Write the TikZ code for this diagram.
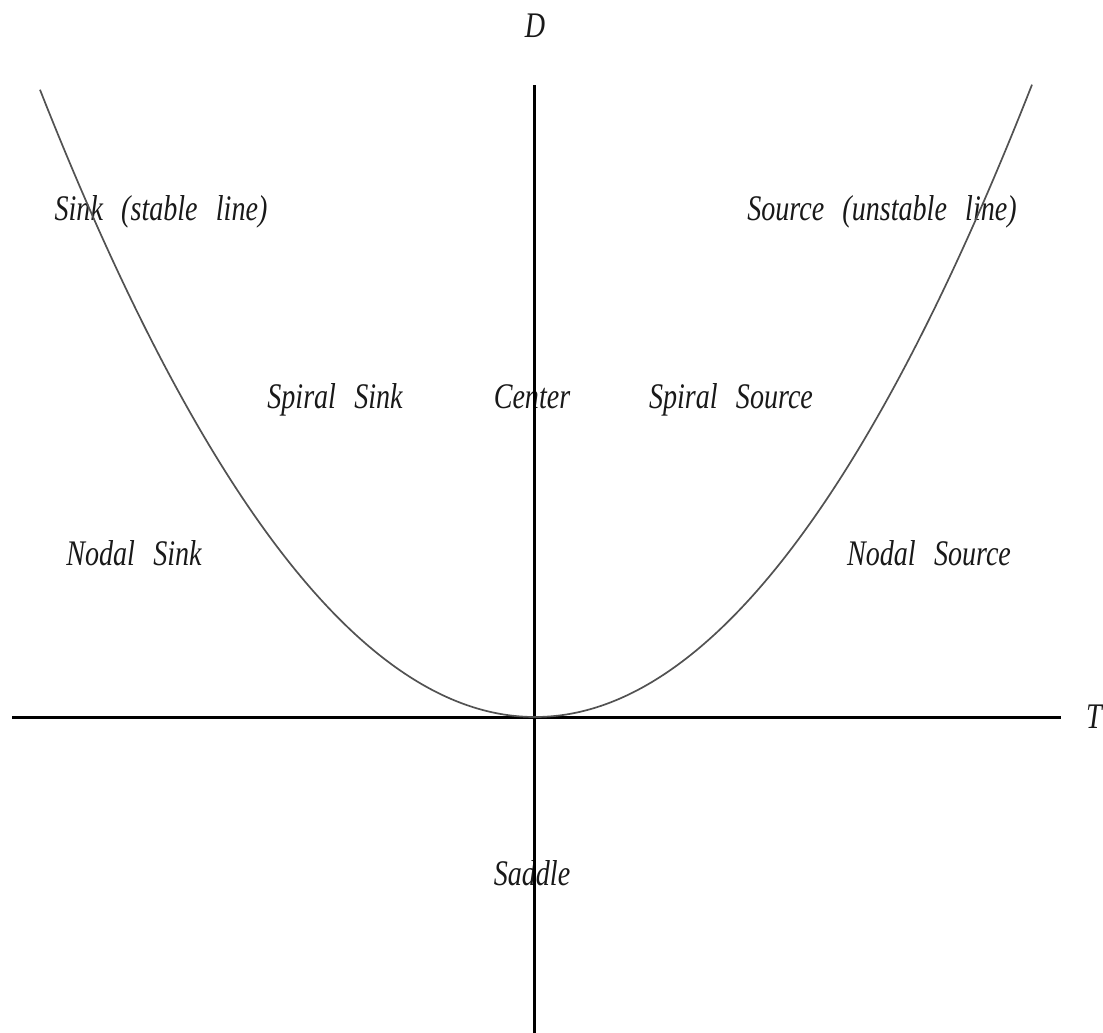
\documentclass[tikz,border=0pt]{standalone}
\usepackage{fontspec}
\setmainfont[WordSpace=2.6]{Liberation Serif}
\newcommand{\sqz}[1]{\scalebox{0.78}[1]{#1}}
\tikzset{
  lab/.style={font=\itshape\fontsize{36}{36}\selectfont, anchor=base, inner sep=0pt, text=black!90},
  axis/.style={line width=3pt, black},
  curve/.style={line width=1.7pt, black!68}
}
\begin{document}
\begin{tikzpicture}[x=1pt,y=-1pt]
\useasboundingbox (0,0) rectangle (1103,1033);
% labels
\node[lab] (d) at (535,38) {\sqz{D}};
\node[lab, anchor=base east] (t) at (1102,728) {\sqz{T}};
\node[lab] (sinkline) at (161,220) {\sqz{Sink (stable line)}};
\node[lab] (sourceline) at (882,220) {\sqz{Source (unstable line)}};
\node[lab] (spsink) at (335,408) {\sqz{Spiral Sink}};
\node[lab] (center) at (532,408) {\sqz{Center}};
\node[lab] (spsource) at (731,408) {\sqz{Spiral Source}};
\node[lab] (nsink) at (134,565) {\sqz{Nodal Sink}};
\node[lab] (nsource) at (929,565) {\sqz{Nodal Source}};
\node[lab] (saddle) at (532,885) {\sqz{Saddle}};
% axes
\coordinate (xl) at (12,717);
\coordinate (xr) at (1061,717);
\coordinate (yt) at (534,85);
\coordinate (yb) at (534,1033);
\draw[axis] (xl) -- (xr);
\draw[axis] (yt) -- (yb);
% parabola D = T^2/4
\draw[curve] plot[domain=40:1032, samples=160, smooth] (\x, {717-25.6*((\x-535)/100)^2});
\end{tikzpicture}
\end{document}
